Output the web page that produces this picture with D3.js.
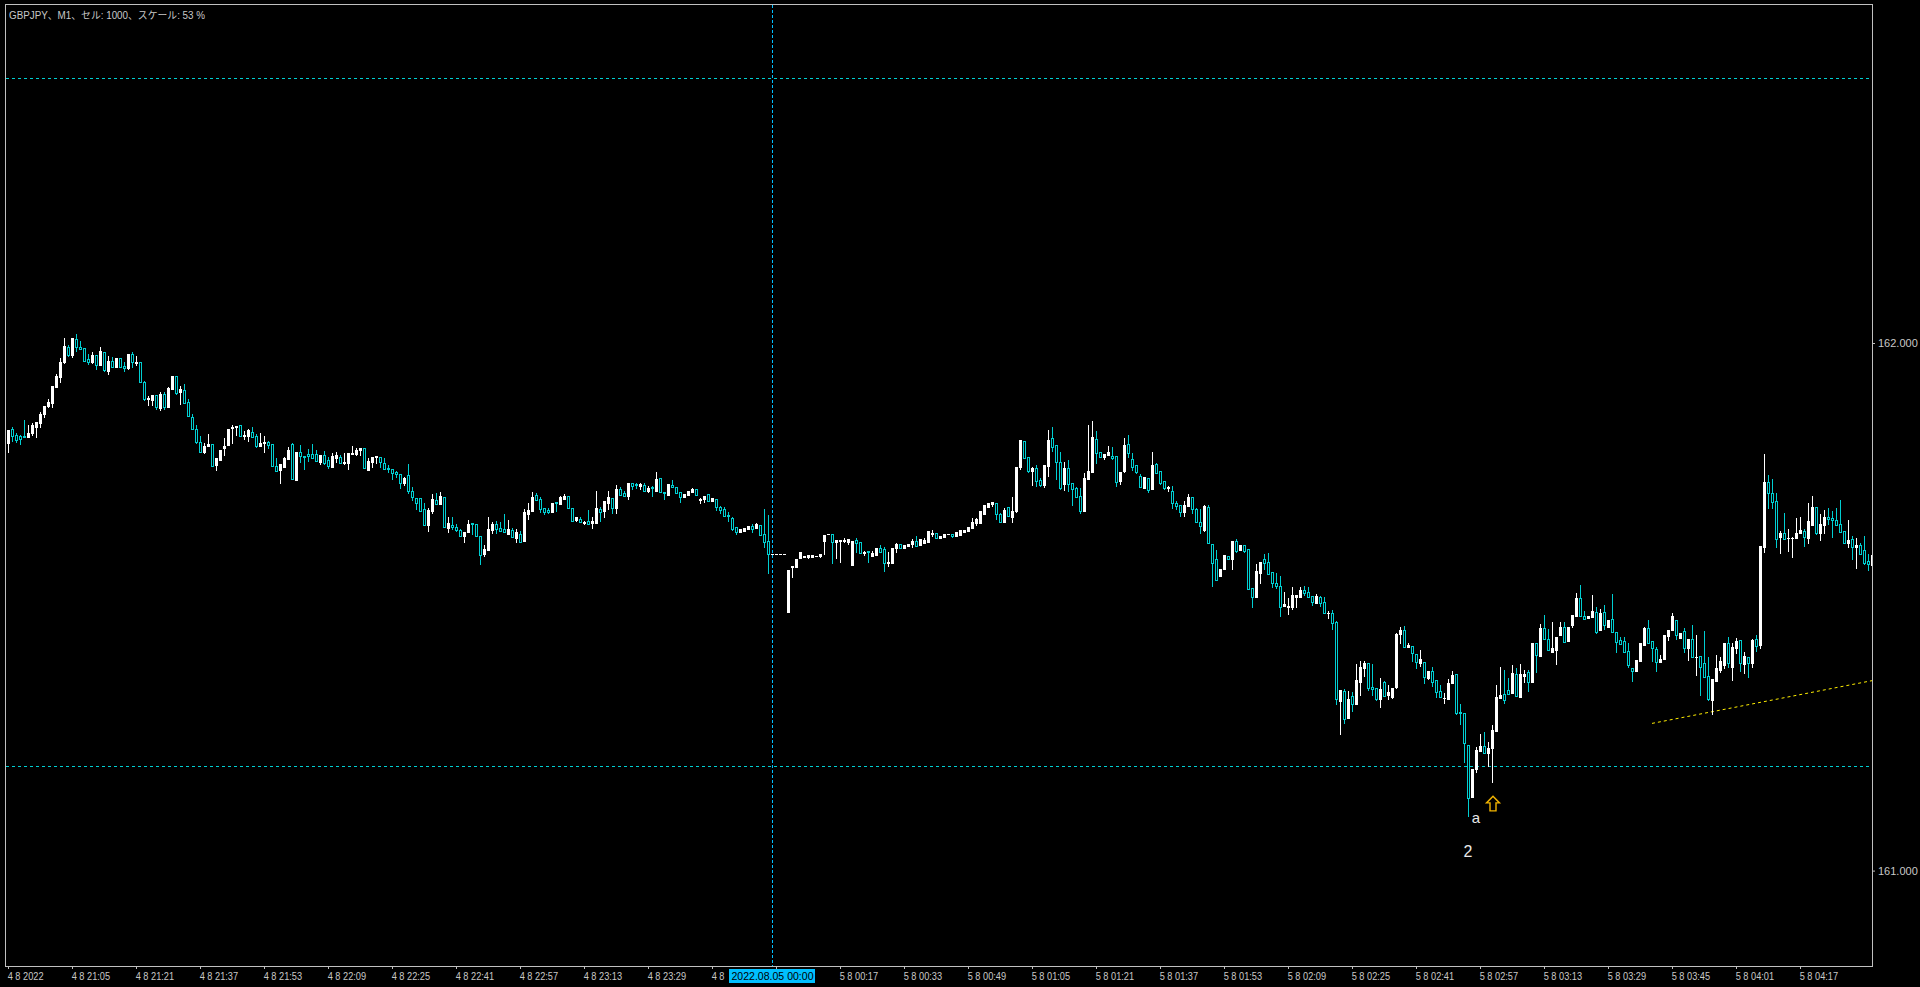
<!DOCTYPE html>
<html><head><meta charset="utf-8">
<script src="https://cdn.jsdelivr.net/npm/d3@7"></script>
<style>html,body{margin:0;padding:0;background:#000;overflow:hidden}</style>
</head><body>
<svg id="c" width="1920" height="987" style="display:block;background:#000"></svg>
<script>
const title = "GBPJPY、M1、セル: 1000、スケール: 53 %";
const opens = [
161.810,161.837,161.826,161.824,161.824,161.822,161.829,161.841,161.848,161.865,
161.881,161.886,161.917,161.936,161.964,161.992,161.977,162.008,161.992,161.991,
161.970,161.964,161.977,161.958,161.983,161.947,161.966,161.955,161.972,161.956,
161.953,161.979,161.962,161.964,161.926,161.894,161.892,161.901,161.877,161.903,
161.879,161.913,161.937,161.907,161.911,161.888,161.860,161.837,161.812,161.793,
161.805,161.809,161.769,161.778,161.801,161.807,161.839,161.841,161.845,161.824,
161.824,161.831,161.824,161.805,161.810,161.812,161.809,161.767,161.759,161.765,
161.780,161.809,161.740,161.793,161.786,161.790,161.790,161.790,161.774,161.788,
161.778,161.765,161.782,161.784,161.773,161.773,161.790,161.790,161.797,161.801,
161.759,161.774,161.784,161.784,161.773,161.763,161.761,161.755,161.752,161.735,
161.750,161.719,161.706,161.706,161.685,161.655,161.682,161.702,161.695,161.708,
161.649,161.655,161.651,161.646,161.634,161.642,161.659,161.657,161.634,161.600,
161.608,161.646,161.657,161.649,161.647,161.638,161.646,161.630,161.638,161.625,
161.676,161.682,161.712,161.704,161.687,161.683,161.680,161.699,161.695,161.704,
161.710,161.687,161.665,161.666,161.659,161.663,161.659,161.659,161.685,161.682,
161.697,161.706,161.687,161.723,161.716,161.710,161.735,161.733,161.729,161.731,
161.719,161.727,161.719,161.744,161.718,161.712,161.731,161.727,161.718,161.708,
161.712,161.718,161.723,161.702,161.704,161.714,161.701,161.704,161.689,161.685,
161.674,161.668,161.651,161.642,161.644,161.647,161.653,161.649,161.655,161.638,
161.625,161.600,161.600,161.600,161.600,161.490,161.575,161.575,161.592,161.594,
161.594,161.594,161.596,161.596,161.625,161.638,161.638,161.623,161.625,161.625,
161.623,161.579,161.627,161.623,161.602,161.606,161.596,161.598,161.611,161.610,
161.583,161.583,161.611,161.619,161.611,161.615,161.619,161.625,161.617,161.621,
161.623,161.638,161.640,161.630,161.632,161.638,161.638,161.634,161.636,161.642,
161.644,161.649,161.659,161.659,161.676,161.689,161.695,161.697,161.676,161.661,
161.689,161.670,161.682,161.765,161.814,161.784,161.757,161.763,161.740,161.731,
161.767,161.820,161.807,161.774,161.733,161.763,161.735,161.725,161.710,161.682,
161.742,161.755,161.818,161.793,161.784,161.788,161.786,161.786,161.738,161.757,
161.809,161.780,161.769,161.748,161.725,161.744,161.723,161.771,161.757,161.738,
161.725,161.719,161.697,161.693,161.680,161.691,161.708,161.685,161.661,161.646,
161.689,161.619,161.591,161.558,161.572,161.596,161.591,161.625,161.608,161.617,
161.610,161.536,161.519,161.564,161.591,161.585,161.566,161.545,161.539,161.502,
161.500,161.500,161.519,161.519,161.532,161.528,161.520,161.507,161.519,161.509,
161.488,161.488,161.471,161.321,161.340,161.289,161.331,161.316,161.357,161.384,
161.393,161.348,161.346,161.325,161.357,161.333,161.329,161.348,161.448,161.456,
161.424,161.426,161.411,161.393,161.395,161.365,161.378,161.361,161.340,161.327,
161.325,161.356,161.373,161.301,161.299,161.238,161.139,161.193,161.227,161.236,
161.223,161.232,161.265,161.327,161.335,161.342,161.337,161.373,161.329,161.369,
161.376,161.357,161.431,161.407,161.460,161.439,161.414,161.418,161.447,161.462,
161.435,161.466,161.483,161.517,161.483,161.479,161.481,161.490,161.456,161.490,
161.462,161.477,161.452,161.437,161.435,161.416,161.384,161.378,161.397,161.428,
161.460,161.435,161.420,161.395,161.401,161.445,161.456,161.475,161.441,161.454,
161.422,161.439,161.405,161.407,161.393,161.369,161.323,161.359,161.380,161.390,
161.431,161.386,161.422,161.437,161.392,161.405,161.393,161.439,161.428,161.613,
161.737,161.716,161.701,161.632,161.640,161.630,161.630,161.630,161.640,161.644,
161.630,161.655,161.689,161.640,161.655,161.670,161.668,161.665,161.657,161.644,
161.621,161.628,161.613,161.617,161.608,161.587,161.579
];
const highs = [
161.835,161.841,161.829,161.826,161.854,161.845,161.848,161.850,161.869,161.881,
161.894,161.918,161.941,161.972,162.009,161.996,162.009,162.017,162.004,161.991,
161.979,161.983,161.977,161.992,161.983,161.975,161.973,161.972,161.972,161.964,
161.979,161.983,161.975,161.964,161.928,161.900,161.901,161.901,161.907,161.907,
161.917,161.937,161.937,161.918,161.922,161.894,161.865,161.845,161.824,161.810,
161.828,161.809,161.782,161.797,161.820,161.837,161.845,161.843,161.845,161.833,
161.837,161.841,161.828,161.829,161.824,161.814,161.809,161.782,161.771,161.784,
161.803,161.810,161.793,161.807,161.786,161.799,161.809,161.797,161.788,161.795,
161.784,161.792,161.793,161.788,161.792,161.792,161.805,161.801,161.801,161.801,
161.782,161.784,161.786,161.784,161.782,161.769,161.761,161.757,161.752,161.746,
161.771,161.727,161.706,161.706,161.697,161.687,161.714,161.716,161.718,161.708,
161.670,161.670,161.657,161.647,161.642,161.665,161.659,161.657,161.634,161.617,
161.670,161.661,161.663,161.661,161.676,161.665,161.649,161.647,161.644,161.685,
161.697,161.718,161.716,161.708,161.687,161.687,161.697,161.699,161.710,161.714,
161.710,161.687,161.670,161.670,161.663,161.683,161.670,161.719,161.689,161.701,
161.719,161.706,161.731,161.727,161.719,161.735,161.735,161.735,161.735,161.735,
161.729,161.729,161.755,161.744,161.718,161.733,161.740,161.727,161.718,161.714,
161.719,161.725,161.723,161.706,161.710,161.714,161.706,161.704,161.691,161.689,
161.680,161.670,161.651,161.647,161.649,161.653,161.657,161.659,161.655,161.685,
161.674,161.600,161.600,161.600,161.600,161.570,161.577,161.591,161.604,161.596,
161.598,161.598,161.596,161.600,161.636,161.638,161.638,161.627,161.627,161.630,
161.628,161.625,161.630,161.623,161.606,161.606,161.606,161.611,161.617,161.613,
161.604,161.611,161.621,161.619,161.617,161.619,161.628,161.634,161.628,161.630,
161.644,161.646,161.640,161.634,161.638,161.638,161.638,161.642,161.646,161.646,
161.651,161.668,161.668,161.682,161.693,161.697,161.699,161.697,161.678,161.687,
161.689,161.708,161.765,161.816,161.814,161.784,161.765,161.769,161.744,161.769,
161.835,161.841,161.807,161.793,161.774,161.778,161.735,161.727,161.725,161.754,
161.845,161.852,161.833,161.793,161.790,161.805,161.803,161.786,161.755,161.820,
161.826,161.792,161.769,161.752,161.746,161.744,161.793,161.773,161.757,161.738,
161.729,161.729,161.701,161.693,161.701,161.714,161.708,161.687,161.685,161.693,
161.693,161.619,161.608,161.572,161.598,161.596,161.625,161.628,161.617,161.617,
161.610,161.536,161.581,161.585,161.600,161.602,161.566,161.564,161.558,161.528,
161.517,161.538,161.522,161.538,161.539,161.538,161.520,161.524,161.520,161.519,
161.492,161.494,161.473,161.342,161.344,161.340,161.338,161.392,161.397,161.397,
161.393,161.392,161.346,161.365,161.359,161.352,161.346,161.450,161.462,161.464,
161.431,161.426,161.411,161.418,161.395,161.378,161.386,161.361,161.352,161.337,
161.363,161.378,161.373,161.316,161.299,161.238,161.193,161.234,161.259,161.263,
161.244,161.276,161.352,161.386,161.380,161.365,161.390,161.384,161.392,161.380,
161.380,161.431,161.431,161.467,161.484,161.458,161.471,161.443,161.471,161.471,
161.462,161.484,161.526,161.541,161.492,161.483,161.522,161.500,161.496,161.503,
161.475,161.524,161.452,161.443,161.443,161.431,161.384,161.399,161.431,161.462,
161.475,161.435,161.424,161.409,161.447,161.456,161.488,161.475,161.450,161.460,
161.439,161.466,161.447,161.407,161.454,161.405,161.363,161.409,161.405,161.431,
161.443,161.431,161.441,161.437,161.414,161.405,161.439,161.447,161.615,161.790,
161.750,161.742,161.716,161.644,161.678,161.647,161.632,161.668,161.670,161.647,
161.697,161.710,161.689,161.676,161.683,161.687,161.682,161.687,161.702,161.644,
161.665,161.634,161.630,161.621,161.634,161.600,161.598
];
const lows = [
161.793,161.814,161.812,161.809,161.822,161.822,161.826,161.822,161.841,161.860,
161.879,161.879,161.917,161.926,161.962,161.975,161.973,161.985,161.989,161.966,
161.960,161.962,161.951,161.958,161.947,161.941,161.955,161.955,161.955,161.947,
161.951,161.955,161.958,161.926,161.892,161.882,161.882,161.875,161.873,161.875,
161.879,161.913,161.903,161.884,161.886,161.862,161.837,161.810,161.793,161.792,
161.805,161.767,161.759,161.778,161.788,161.807,161.810,161.826,161.824,161.818,
161.814,161.822,161.803,161.805,161.793,161.801,161.767,161.757,161.735,161.765,
161.780,161.742,161.740,161.774,161.761,161.776,161.782,161.776,161.771,161.771,
161.763,161.765,161.774,161.773,161.771,161.761,161.790,161.788,161.788,161.763,
161.759,161.765,161.773,161.765,161.761,161.755,161.742,161.746,161.725,161.731,
161.716,161.702,161.685,161.682,161.655,161.644,161.678,161.695,161.695,161.651,
161.642,161.647,161.644,161.634,161.623,161.642,161.638,161.634,161.581,161.596,
161.608,161.640,161.640,161.644,161.642,161.638,161.632,161.623,161.623,161.625,
161.666,161.682,161.702,161.680,161.676,161.678,161.680,161.682,161.695,161.704,
161.687,161.663,161.663,161.661,161.657,161.657,161.649,161.659,161.663,161.670,
161.685,161.678,161.678,161.712,161.710,161.704,161.723,161.725,161.723,161.719,
161.718,161.710,161.719,161.718,161.704,161.712,161.727,161.716,161.699,161.708,
161.712,161.718,161.712,161.697,161.699,161.701,161.701,161.683,161.678,161.672,
161.663,161.646,161.638,161.642,161.644,161.647,161.642,161.649,161.636,161.613,
161.564,161.600,161.600,161.600,161.600,161.490,161.556,161.575,161.592,161.594,
161.592,161.594,161.596,161.594,161.600,161.638,161.583,161.592,161.585,161.623,
161.619,161.579,161.604,161.602,161.598,161.585,161.596,161.598,161.604,161.568,
161.577,161.583,161.604,161.611,161.611,161.615,161.613,161.615,161.617,161.621,
161.623,161.634,161.630,161.630,161.632,161.638,161.632,161.634,161.636,161.642,
161.644,161.649,161.655,161.659,161.676,161.689,161.691,161.666,161.661,161.661,
161.672,161.661,161.680,161.761,161.782,161.755,161.731,161.729,161.729,161.727,
161.748,161.795,161.742,161.723,161.721,161.719,161.693,161.708,161.678,161.682,
161.742,161.755,161.773,161.784,161.780,161.788,161.780,161.729,161.733,161.755,
161.784,161.759,161.754,161.727,161.725,161.718,161.723,161.754,161.733,161.723,
161.719,161.687,161.685,161.672,161.672,161.691,161.678,161.661,161.640,161.644,
161.621,161.539,161.551,161.558,161.572,161.591,161.572,161.604,161.608,161.604,
161.534,161.500,161.519,161.545,161.572,161.562,161.538,161.536,161.483,161.502,
161.486,161.496,161.500,161.519,161.522,161.519,161.503,161.507,161.502,161.488,
161.479,161.458,161.316,161.259,161.280,161.289,161.302,161.316,161.333,161.369,
161.342,161.333,161.323,161.310,161.331,161.325,161.327,161.346,161.431,161.424,
161.424,161.397,161.384,161.388,161.356,161.363,161.350,161.329,161.329,161.318,
161.325,161.356,161.297,161.278,161.206,161.103,161.139,161.187,161.227,161.223,
161.198,161.168,161.265,161.327,161.318,161.335,161.337,161.331,161.329,161.357,
161.340,161.357,161.376,161.407,161.439,161.418,161.414,161.392,161.447,161.433,
161.435,161.462,161.483,161.483,161.477,161.479,161.481,161.450,161.456,161.458,
161.462,161.452,161.414,161.429,161.414,161.386,161.359,161.378,161.397,161.428,
161.431,161.397,161.378,161.395,161.401,161.437,161.456,161.439,161.441,161.414,
161.399,161.405,161.371,161.333,161.367,161.323,161.297,161.359,161.376,161.384,
161.386,161.361,161.412,161.378,161.374,161.367,161.386,161.416,161.422,161.604,
161.687,161.687,161.613,161.602,161.628,161.606,161.594,161.630,161.640,161.615,
161.621,161.655,161.638,161.627,161.640,161.657,161.632,161.655,161.642,161.621,
161.613,161.591,161.574,161.600,161.581,161.570,161.579
];
const closes = [
161.835,161.824,161.816,161.818,161.822,161.829,161.845,161.850,161.865,161.881,
161.888,161.918,161.937,161.964,161.994,161.977,162.009,161.992,161.989,161.966,
161.964,161.977,161.958,161.985,161.949,161.966,161.955,161.972,161.955,161.953,
161.979,161.964,161.964,161.926,161.894,161.896,161.901,161.879,161.903,161.879,
161.915,161.937,161.905,161.913,161.886,161.862,161.837,161.812,161.793,161.805,
161.809,161.767,161.782,161.797,161.805,161.837,161.841,161.843,161.824,161.826,
161.835,161.822,161.805,161.810,161.812,161.807,161.767,161.757,161.771,161.782,
161.797,161.742,161.793,161.786,161.784,161.786,161.782,161.776,161.788,161.773,
161.767,161.786,161.788,161.773,161.774,161.792,161.792,161.797,161.801,161.763,
161.776,161.784,161.786,161.774,161.761,161.761,161.754,161.752,161.735,161.744,
161.719,161.708,161.697,161.682,161.655,161.683,161.704,161.695,161.710,161.651,
161.659,161.651,161.646,161.634,161.642,161.657,161.657,161.634,161.598,161.610,
161.647,161.657,161.647,161.644,161.642,161.647,161.632,161.642,161.623,161.680,
161.683,161.708,161.702,161.685,161.680,161.680,161.697,161.697,161.708,161.710,
161.687,161.663,161.670,161.661,161.661,161.657,161.663,161.687,161.680,161.701,
161.708,161.687,161.723,161.712,161.710,161.735,161.729,161.731,161.733,161.719,
161.725,161.725,161.742,161.718,161.716,161.733,161.727,161.716,161.708,161.714,
161.719,161.723,161.712,161.704,161.710,161.701,161.706,161.689,161.683,161.672,
161.672,161.647,161.642,161.647,161.649,161.653,161.647,161.657,161.636,161.623,
161.600,161.600,161.600,161.600,161.600,161.570,161.577,161.591,161.604,161.596,
161.598,161.598,161.596,161.600,161.636,161.638,161.623,161.627,161.627,161.627,
161.628,161.625,161.621,161.602,161.604,161.604,161.602,161.611,161.604,161.583,
161.585,161.611,161.619,161.611,161.617,161.619,161.625,161.615,161.628,161.627,
161.644,161.640,161.630,161.634,161.638,161.638,161.634,161.642,161.646,161.646,
161.651,161.661,161.666,161.682,161.693,161.697,161.699,161.676,161.661,161.683,
161.672,161.682,161.765,161.816,161.782,161.757,161.763,161.738,161.731,161.769,
161.816,161.803,161.774,161.725,161.763,161.733,161.723,161.708,161.682,161.744,
161.757,161.822,161.792,161.784,161.790,161.793,161.782,161.737,161.755,161.807,
161.792,161.765,161.755,161.727,161.746,161.721,161.769,161.754,161.735,161.725,
161.727,161.697,161.691,161.680,161.693,161.708,161.685,161.661,161.653,161.691,
161.621,161.583,161.551,161.572,161.598,161.591,161.625,161.606,161.617,161.606,
161.534,161.519,161.568,161.585,161.583,161.562,161.545,161.539,161.500,161.505,
161.502,161.522,161.522,161.532,161.526,161.519,161.509,161.520,161.507,161.488,
161.488,161.469,161.325,161.342,161.287,161.325,161.316,161.361,161.386,161.393,
161.346,161.344,161.325,161.344,161.331,161.338,161.346,161.448,161.456,161.424,
161.428,161.412,161.395,161.401,161.367,161.378,161.357,161.338,161.329,161.327,
161.356,161.371,161.299,161.299,161.242,161.138,161.193,161.229,161.236,161.223,
161.232,161.266,161.329,161.333,161.323,161.335,161.374,161.331,161.373,161.373,
161.357,161.431,161.409,161.460,161.439,161.418,161.422,161.443,161.462,161.433,
161.462,161.484,161.517,161.483,161.477,161.483,161.492,161.452,161.488,161.466,
161.475,161.452,161.433,161.429,161.414,161.390,161.378,161.399,161.431,161.460,
161.431,161.422,161.395,161.401,161.447,161.456,161.483,161.447,161.450,161.422,
161.439,161.405,161.405,161.386,161.367,161.325,161.363,161.384,161.397,161.431,
161.393,161.424,161.435,161.393,161.407,161.393,161.437,161.426,161.615,161.737,
161.716,161.699,161.628,161.640,161.628,161.630,161.630,161.640,161.646,161.632,
161.663,161.689,161.640,161.657,161.670,161.666,161.665,161.655,161.642,161.621,
161.627,161.613,161.617,161.600,161.583,161.581,161.598
];
const timeTickIndex = [0,16,32,48,64,80,96,112,128,144,160,176,192,208,224,240,256,272,288,304,320,336,352,368,384,400,416,432,448];
const timeLabels = ["4 8 2022","4 8 21:05","4 8 21:21","4 8 21:37","4 8 21:53","4 8 22:09","4 8 22:25","4 8 22:41","4 8 22:57","4 8 23:13","4 8 23:29","4 8 23:45","5 8 00:01","5 8 00:17","5 8 00:33","5 8 00:49","5 8 01:05","5 8 01:21","5 8 01:37","5 8 01:53","5 8 02:09","5 8 02:25","5 8 02:41","5 8 02:57","5 8 03:13","5 8 03:29","5 8 03:45","5 8 04:01","5 8 04:17"];
const priceTicks = [161, 162];
const levelPrices = [162.502, 161.198];
const crossIndex = 191;
const crossLabel = "2022.08.05 00:00";
const trendIndex = [411, 466];
const trendPrice = [161.279, 161.360];
const noteText = ["a", "2"];
const noteIndex = [367, 365];
const notePrice = [161.098, 161.034];
const noteSize = [15, 16];
const arrowIndex = 371.25;
const arrowPrice = 161.141;

const plot = {left: 5, top: 4, right: 1872, bottom: 966};
const BULL = "#ffffff", BEAR = "#00ced1";
const svg = d3.select("#c");
const x = d3.scaleLinear().domain([0, 466]).range([8, 1872]);
const y = d3.scaleLinear().domain([161, 162]).range([870.6, 343]);

svg.append("defs").append("clipPath").attr("id", "pc")
  .append("rect").attr("x", plot.left + 1).attr("y", plot.top + 1)
  .attr("width", plot.right - plot.left - 1).attr("height", plot.bottom - plot.top - 1);

const n = Math.min(opens.length, highs.length, lows.length, closes.length);
const data = d3.range(n).map(i => ({i, o: opens[i], h: highs[i], l: lows[i], c: closes[i]}));

const g0 = svg.append("g").attr("clip-path", "url(#pc)");
g0.selectAll("line.lvl").data(levelPrices).enter().append("line")
  .attr("x1", plot.left + 1).attr("x2", plot.right)
  .attr("y1", d => Math.round(y(d)) + 0.5).attr("y2", d => Math.round(y(d)) + 0.5)
  .attr("stroke", BEAR).attr("stroke-width", 1).attr("stroke-dasharray", "3,3");

const cg = svg.append("g").attr("clip-path", "url(#pc)").attr("shape-rendering", "crispEdges");
const cand = cg.selectAll("g.c").data(data).enter().append("g");
cand.each(function(d) {
  const g = d3.select(this);
  const cx = Math.round(x(d.i));
  const yo = Math.round(y(d.o)), yc = Math.round(y(d.c));
  const yh = Math.round(y(d.h)), yl = Math.round(y(d.l));
  const top = Math.min(yo, yc), bot = Math.max(yo, yc);
  const bull = d.c >= d.o;
  if (bull) {
    g.append("rect").attr("x", cx).attr("y", yh).attr("width", 1).attr("height", Math.max(1, yl - yh + 1)).attr("fill", BULL);
    g.append("rect").attr("x", cx - 1).attr("y", top).attr("width", 3).attr("height", bot - top + 1).attr("fill", BULL);
  } else {
    if (top - yh > 0) g.append("rect").attr("x", cx).attr("y", yh).attr("width", 1).attr("height", top - yh).attr("fill", BEAR);
    if (yl - bot > 0) g.append("rect").attr("x", cx).attr("y", bot + 1).attr("width", 1).attr("height", yl - bot).attr("fill", BEAR);
    if (bot - top >= 2) {
      g.append("rect").attr("x", cx - 0.5).attr("y", top + 0.5).attr("width", 2).attr("height", bot - top)
        .attr("fill", "#000").attr("stroke", BEAR).attr("stroke-width", 1);
    } else {
      g.append("rect").attr("x", cx - 1).attr("y", top).attr("width", 3).attr("height", bot - top + 1).attr("fill", BEAR);
    }
  }
});

g0.append("line")
  .attr("x1", x(trendIndex[0])).attr("y1", y(trendPrice[0]))
  .attr("x2", x(trendIndex[1])).attr("y2", y(trendPrice[1]))
  .attr("stroke", "#ffee00").attr("stroke-width", 1).attr("stroke-dasharray", "3,3");

svg.selectAll("text.note").data(noteText).enter().append("text")
  .attr("x", (d, k) => x(noteIndex[k])).attr("y", (d, k) => y(notePrice[k]))
  .attr("text-anchor", "middle").attr("dominant-baseline", "middle")
  .attr("font-family", "'Liberation Sans', Arial, sans-serif")
  .attr("font-size", (d, k) => noteSize[k] + "px").attr("fill", "#e8e8e8").text(d => d);

const ax = x(arrowIndex), ay = y(arrowPrice);
svg.append("path")
  .attr("d", `M${ax},${ay} L${ax+6.5},${ay+6.7} L${ax+3},${ay+6.7} L${ax+3},${ay+14.7} L${ax-3},${ay+14.7} L${ax-3},${ay+6.7} L${ax-6.5},${ay+6.7} Z`)
  .attr("fill", "none").attr("stroke", "#f2b400").attr("stroke-width", 1.4);

svg.append("line").attr("x1", Math.round(x(crossIndex)) + 0.5).attr("x2", Math.round(x(crossIndex)) + 0.5)
  .attr("y1", plot.top + 1).attr("y2", plot.bottom)
  .attr("stroke", "#00bfff").attr("stroke-width", 1).attr("stroke-dasharray", "3,2");

svg.append("rect").attr("x", plot.left + 0.5).attr("y", plot.top + 0.5)
  .attr("width", plot.right - plot.left).attr("height", plot.bottom - plot.top)
  .attr("fill", "none").attr("stroke", "#c0c0c0").attr("stroke-width", 1);

const axisFont = "'Liberation Sans', Arial, sans-serif";
const axisColor = "#c8c8c8";
const SX = 0.84;

// crosshair label box extent
const cx0 = Math.round(x(crossIndex));
const boxL = cx0 - 43, boxR = cx0 + 43;

const xAxis = d3.axisBottom(x).tickValues(timeTickIndex).tickFormat((d, k) => timeLabels[k]).tickSize(3).tickSizeOuter(0);
const xg = svg.append("g").attr("transform", `translate(0,${plot.bottom})`).call(xAxis);
xg.select(".domain").remove();
xg.selectAll(".tick line").attr("stroke", "#c0c0c0");
xg.selectAll(".tick text")
  .attr("text-anchor", "start").attr("x", -1).attr("y", 14).attr("dy", null)
  .attr("transform", `scale(${SX},1)`)
  .attr("fill", axisColor).attr("font-family", axisFont).attr("font-size", "11px");
// labels hidden behind the crosshair time label, as in the terminal
xg.selectAll(".tick text").each(function(d) {
  const t = d3.select(this);
  const start = x(d) - 1;
  let full = t.text();
  const w = this.getComputedTextLength() * SX;
  if (start >= boxL - 2 && start <= boxR) { t.remove(); return; }
  if (start < boxL && start + w > boxL - 2) {
    let s = full;
    while (s.length > 0) {
      s = s.slice(0, -1);
      t.text(s);
      if (start + this.getComputedTextLength() * SX <= boxL - 2) break;
    }
    t.text(s.trimEnd());
  }
});

const yAxis = d3.axisRight(y).tickValues(priceTicks).tickFormat(d3.format(".3f")).tickSize(3).tickSizeOuter(0);
const yg = svg.append("g").attr("transform", `translate(${plot.right},0)`).call(yAxis);
yg.select(".domain").remove();
yg.selectAll(".tick line").attr("stroke", "#c0c0c0");
yg.selectAll(".tick text").attr("x", 6).attr("dy", "0.33em")
  .attr("fill", axisColor).attr("font-family", axisFont).attr("font-size", "11px");

svg.append("rect").attr("x", boxL).attr("y", 969).attr("width", boxR - boxL).attr("height", 14).attr("fill", "#00bfff");
svg.append("text").attr("x", cx0 + 0.5).attr("y", 980).attr("text-anchor", "middle")
  .attr("font-family", axisFont).attr("font-size", "11px").attr("fill", "#000")
  .attr("textLength", 82).attr("lengthAdjust", "spacingAndGlyphs").text(crossLabel);

svg.append("text").attr("x", 9).attr("y", 19)
  .attr("font-family", "'Liberation Sans', 'Noto Sans CJK JP', sans-serif").attr("font-size", "10px")
  .attr("fill", "#c8c8c8").attr("textLength", 196).attr("lengthAdjust", "spacingAndGlyphs").text(title);
</script>
</body></html>
